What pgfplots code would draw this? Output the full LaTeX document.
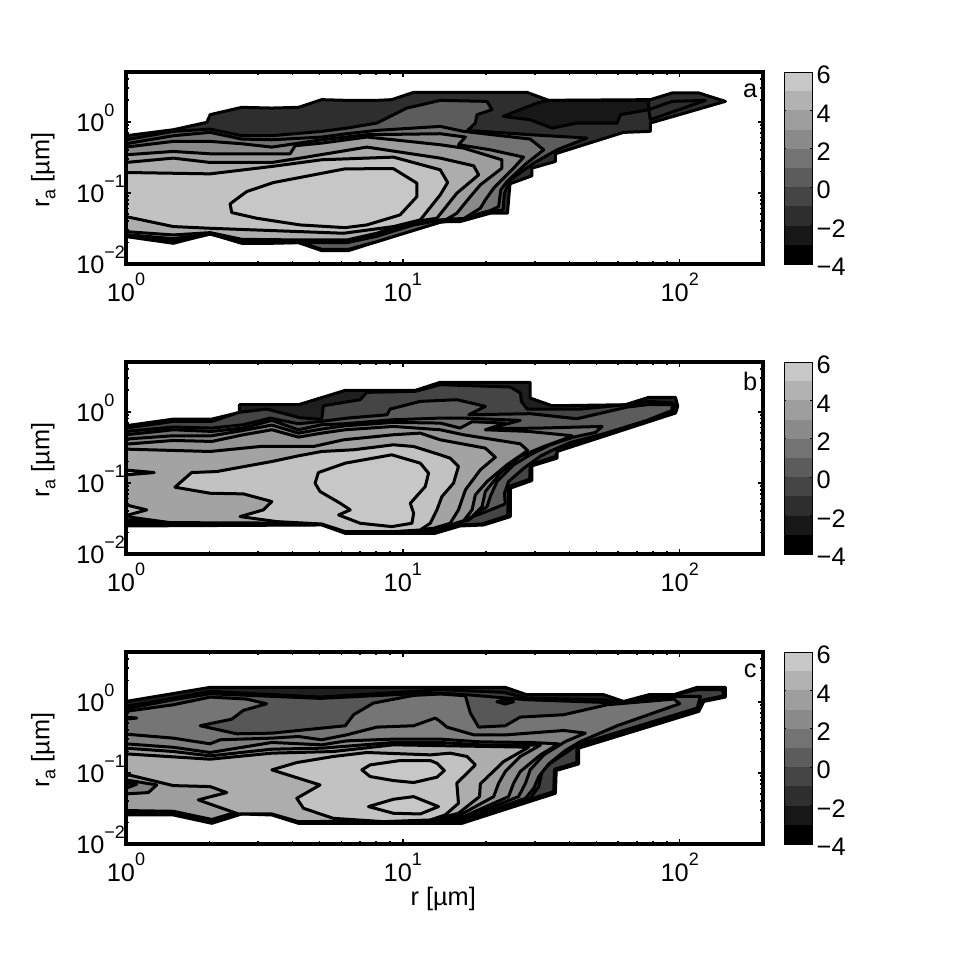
\documentclass[border=0pt]{standalone}
\usepackage{fontspec}
\setmainfont{Liberation Sans}
\usepackage{pgfplots}
\pgfplotsset{compat=1.18}
\definecolor{g00}{gray}{0.00}\definecolor{g09}{gray}{0.09}\definecolor{g12}{gray}{0.12}
\definecolor{g18}{gray}{0.18}\definecolor{g25}{gray}{0.25}\definecolor{g27}{gray}{0.27}
\definecolor{g34}{gray}{0.34}\definecolor{g36}{gray}{0.36}\definecolor{g44}{gray}{0.46}
\definecolor{g45}{gray}{0.45}\definecolor{g50}{gray}{0.50}\definecolor{g52}{gray}{0.52}
\definecolor{g54}{gray}{0.54}\definecolor{g56}{gray}{0.56}\definecolor{g58}{gray}{0.58}
\definecolor{g62}{gray}{0.62}\definecolor{g64}{gray}{0.64}\definecolor{g68}{gray}{0.68}
\definecolor{g70}{gray}{0.70}\definecolor{g72}{gray}{0.72}\definecolor{g76}{gray}{0.76}
\definecolor{g78}{gray}{0.78}
\newcommand{\tf}{\fontsize{19}{21}\selectfont}
\newcommand{\ee}[1]{10\raisebox{11.5pt}{\fontsize{13.5}{14}\selectfont #1}}
% one filled contour region; rows are log10(r) log10(ra)
\newcommand{\poly}[2]{\addplot[draw=black,line width=2.25pt,line join=round,fill=#1]
  table[row sep=\\,header=false,x expr={10^(\thisrowno{0})},y expr={10^(\thisrowno{1})}]{#2} --cycle;}
\pgfplotsset{panel/.style={
  scale only axis,width=477.75pt,height=144pt,
  anchor=south west,xmin=1,xmax=200,ymin=0.01,ymax=5,
  axis on top,clip=true,
  xtick={1,10,100},xticklabels={\ee{0},\ee{1},\ee{2}},
  ytick={0.01,0.1,1},yticklabels={\ee{−2},\ee{−1},\ee{0}},
  minor xtick={2,3,4,5,6,7,8,9,20,30,40,50,60,70,80,90,200},
  minor ytick={0.02,0.03,0.04,0.05,0.06,0.07,0.08,0.09,0.2,0.3,0.4,0.5,0.6,0.7,0.8,0.9,2,3,4,5},
  tick align=inside,major tick length=3.75pt,minor tick length=2.25pt,
  every tick/.style={black,line width=1.2pt},
  axis line style={line width=2.3pt},
  tick label style={font=\tf},label style={font=\tf},
  xticklabel style={yshift=-3.5pt},
  yticklabel style={anchor=west,inner sep=0pt,xshift=-37.5pt,yshift=3pt},
  ylabel={r\raisebox{-4.5pt}{\fontsize{13.5}{14}\selectfont a} [µm]},
  ylabel style={at={(axis description cs:-0.13,0.49)},anchor=center},
},
cbar/.style={
  scale only axis,width=21pt,height=144pt,anchor=south west,
  xmin=0,xmax=1,ymin=-4,ymax=6,xtick=\empty,axis on top,
  ytick={-4,-2,0,2,4,6},yticklabels={−4,−2,0,2,4,6},
  yticklabel pos=right,tick align=inside,
  major tick length=1.5pt,every tick/.style={black,line width=0.5pt},
  axis line style={line width=0.6pt},
  tick label style={font=\tf},
  yticklabel style={yshift=-2.2pt,xshift=0pt},
}}
\newcommand{\bars}{%
 \addplot[draw=none,fill=g00] coordinates {(0,-4)(1,-4)(1,-3)(0,-3)} --cycle;
 \addplot[draw=none,fill=g09] coordinates {(0,-3)(1,-3)(1,-2)(0,-2)} --cycle;
 \addplot[draw=none,fill=g18] coordinates {(0,-2)(1,-2)(1,-1)(0,-1)} --cycle;
 \addplot[draw=none,fill=g27] coordinates {(0,-1)(1,-1)(1,0)(0,0)} --cycle;
 \addplot[draw=none,fill=g36] coordinates {(0,0)(1,0)(1,1)(0,1)} --cycle;
 \addplot[draw=none,fill=g45] coordinates {(0,1)(1,1)(1,2)(0,2)} --cycle;
 \addplot[draw=none,fill=g54] coordinates {(0,2)(1,2)(1,3)(0,3)} --cycle;
 \addplot[draw=none,fill=g62] coordinates {(0,3)(1,3)(1,4)(0,4)} --cycle;
 \addplot[draw=none,fill=g70] coordinates {(0,4)(1,4)(1,5)(0,5)} --cycle;
 \addplot[draw=none,fill=g78] coordinates {(0,5)(1,5)(1,6)(0,6)} --cycle;
}
\begin{document}
\begin{tikzpicture}
\path (0,0) rectangle (724.5pt,726.75pt);
%%%%%%%% panel a
\begin{loglogaxis}[panel,at={(94.5pt,528.75pt)}]
\poly{g18}{0 -.197\\.171 -.113\\.292 -.009\\.304 .099\\.418 .202\\.527 .192\\.623 .202\\.707 .31\\.798 .30\\.906 .30\\.96 .31\\1.039 .413\\1.135 .413\\1.448 .413\\1.527 .30\\1.894 .31\\1.973 .404\\2.069 .404\\2.165 .286\\1.894 -.019\\1.894 -.136\\1.797 -.15\\1.551 -.451\\1.551 -.559\\1.466 -.653\\1.466 -.761\\1.387 -.873\\1.378 -1.286\\1.316 -1.286\\1.207 -1.404\\1.135 -1.404\\.804 -1.812\\.707 -1.812\\.623 -1.70\\.527 -1.709\\.418 -1.709\\.304 -1.577\\.171 -1.709\\0 -1.615\\}
\poly{g09}{1.362 .075\\1.485 .263\\1.527 .30\\1.888 .30\\1.888 .169\\1.786 .098\\1.774 -.019\\1.629 -.019\\1.539 -.09\\1.46 .028\\}
\poly{g18}{1.888 .169\\1.973 .286\\2.093 .30\\1.894 .028\\}
\poly{g36}{0 -.254\\.171 -.136\\.304 -.104\\.418 -.197\\.527 -.197\\.707 -.136\\.798 -.09\\.906 -.019\\1.015 .192\\1.135 .30\\1.304 .286\\1.322 .169\\1.268 .098\\1.262 -.019\\1.234 -.122\\1.46 -.183\\1.665 -.23\\1.557 -.395\\1.473 -.582\\1.388 -.817\\1.367 -1.005\\1.362 -1.24\\1.316 -1.268\\1.207 -1.38\\1.135 -1.414\\.906 -1.686\\.804 -1.794\\.707 -1.794\\.623 -1.686\\.527 -1.695\\.418 -1.695\\.304 -1.559\\.171 -1.695\\0 -1.597\\}
\poly{g45}{0 -.31\\.171 -.197\\.304 -.15\\.418 -.244\\.527 -.254\\.707 -.216\\.798 -.169\\.906 -.122\\1.135 -.066\\1.219 -.136\\1.46 -.244\\1.509 -.395\\1.448 -.582\\1.376 -.841\\1.354 -.958\\1.346 -1.193\\1.316 -1.249\\1.207 -1.366\\1.135 -1.385\\1.039 -1.451\\.906 -1.61\\.798 -1.70\\.623 -1.70\\.527 -1.70\\.418 -1.69\\.304 -1.58\\.171 -1.69\\0 -1.605\\}
\poly{g54}{0 -.357\\.171 -.277\\.304 -.277\\.418 -.31\\.527 -.357\\.707 -.254\\.87 -.183\\1.135 -.169\\1.226 -.216\\1.201 -.324\\1.316 -.395\\1.436 -.498\\1.400 -.653\\1.328 -.935\\1.298 -1.099\\1.28 -1.216\\1.22 -1.362\\1.135 -1.371\\1.039 -1.437\\.906 -1.592\\.798 -1.692\\.623 -1.692\\.418 -1.686\\.304 -1.574\\.171 -1.68\\0 -1.60\\}
\poly{g62}{0 -.465\\.171 -.418\\.304 -.451\\.593 -.451\\.611 -.338\\.707 -.301\\.87 -.216\\.966 -.254\\1.135 -.324\\1.219 -.371\\1.358 -.536\\1.358 -.653\\1.28 -.888\\1.244 -1.052\\1.195 -1.286\\1.159 -1.371\\1.039 -1.42\\.966 -1.50\\.906 -1.58\\.798 -1.682\\.623 -1.682\\.418 -1.677\\.304 -1.569\\.171 -1.644\\0 -1.587\\}
\poly{g68}{0 -.573\\.171 -.512\\.304 -.573\\.527 -.573\\.629 -.512\\.87 -.357\\1.135 -.512\\1.256 -.62\\1.274 -.747\\1.195 -1.005\\1.123 -1.357\\1.039 -1.405\\.966 -1.484\\.906 -1.568\\.798 -1.662\\.623 -1.662\\.418 -1.653\\.304 -1.559\\.171 -1.592\\0 -1.545\\}
\poly{g76}{0 -.714\\.304 -.733\\.527 -.629\\.707 -.535\\.966 -.498\\1.135 -.676\\1.162 -.855\\1.135 -1.029\\1.111 -1.146\\1.063 -1.38\\.966 -1.474\\.786 -1.568\\.533 -1.531\\.304 -1.498\\.171 -1.474\\0 -1.334\\}
\poly{g78}{.376 -1.155\\.436 -.982\\.533 -.855\\.792 -.662\\.966 -.66\\1.051 -.864\\1.051 -1.052\\.99 -1.31\\.87 -1.451\\.792 -1.489\\.629 -1.451\\.472 -1.357\\.382 -1.277\\}
\node[font=\tf] at (axis description cs:0.98,0.90) {a};
\end{loglogaxis}
\begin{axis}[cbar,at={(588pt,528.75pt)}]\bars\end{axis}
%%%%%%%% panel b
\begin{loglogaxis}[panel,at={(94.5pt,311.25pt)}]
\poly{g12}{0 -.197\\.171 -.104\\.31 -.104\\.41 -.01\\.41 .098\\.623 .098\\.792 .30\\1.045 .30\\1.135 .413\\1.46 .413\\1.46 .192\\1.539 .084\\1.804 .098\\1.888 .202\\1.985 .202\\1.993 .075\\1.985 -.019\\1.557 -.559\\1.557 -.653\\1.466 -.761\\1.466 -.967\\1.388 -1.075\\1.388 -1.475\\1.292 -1.592\\1.207 -1.606\\1.117 -1.709\\1.045 -1.709\\.792 -1.709\\.707 -1.592\\0 -1.606\\}
\poly{g27}{0 -.23\\.171 -.136\\.31 -.136\\.41 -.008\\.508 .037\\.629 -.085\\.707 -.108\\.713 .084\\.846 .169\\.87 .272\\1.045 .286\\1.135 .38\\1.388 .347\\1.425 .263\\1.428 .145\\1.449 .037\\1.641 .037\\1.804 .098\\1.888 .145\\1.973 .122\\1.985 .075\\1.973 -.01\\1.72 -.301\\1.563 -.512\\1.551 -.629\\1.46 -.747\\1.458 -.949\\1.382 -1.052\\1.379 -1.46\\1.286 -1.578\\1.207 -1.592\\1.117 -1.695\\.792 -1.695\\.707 -1.583\\0 -1.592\\}
\poly{g36}{0 -.277\\.171 -.216\\.31 -.23\\.424 -.183\\.521 -.09\\.623 -.169\\.707 -.136\\.798 -.09\\.943 -.043\\.954 .037\\1.063 .145\\1.195 .169\\1.298 .075\\1.238 -.043\\1.46 -.028\\1.629 -.099\\1.81 .065\\1.882 .098\\1.973 .098\\1.973 .019\\1.882 -.122\\1.726 -.31\\1.605 -.432\\1.533 -.554\\1.497 -.625\\1.437 -.794\\1.382 -.981\\1.367 -1.146\\1.37 -1.296\\1.28 -1.437\\1.22 -1.512\\1.111 -1.662\\1.045 -1.68\\.792 -1.68\\.707 -1.585\\.159 -1.59\\0 -1.575\\}
\poly{g45}{0 -.324\\.171 -.254\\.31 -.277\\.424 -.23\\.527 -.122\\.623 -.254\\.707 -.183\\.792 -.169\\.966 -.113\\1.135 -.09\\1.219 -.09\\1.424 -.122\\1.31 -.24\\1.497 -.23\\1.72 -.207\\1.696 -.291\\1.617 -.357\\1.533 -.465\\1.46 -.606\\1.4 -.747\\1.34 -.982\\1.316 -1.193\\1.304 -1.334\\1.268 -1.428\\1.238 -1.522\\1.111 -1.653\\1.045 -1.672\\.792 -1.672\\.707 -1.578\\.159 -1.587\\0 -1.568\\}
\poly{g52}{0 -.385\\.171 -.338\\.31 -.338\\.424 -.263\\.527 -.188\\.623 -.301\\.707 -.244\\.792 -.198\\.966 -.15\\1.135 -.16\\1.207 -.23\\1.25 -.141\\1.37 -.16\\1.298 -.254\\1.454 -.277\\1.611 -.338\\1.593 -.371\\1.509 -.489\\1.424 -.629\\1.352 -.864\\1.298 -1.122\\1.286 -1.334\\1.25 -1.475\\1.207 -1.559\\1.111 -1.648\\1.045 -1.662\\.792 -1.662\\.707 -1.568\\.159 -1.577\\0 -1.545\\}
\poly{g58}{0 -.456\\.171 -.404\\.31 -.418\\.424 -.324\\.527 -.254\\.623 -.357\\.707 -.301\\.792 -.254\\.966 -.207\\1.135 -.254\\1.219 -.324\\1.424 -.451\\1.451 -.545\\1.376 -.747\\1.304 -.982\\1.262 -1.169\\1.25 -1.38\\1.22 -1.531\\1.171 -1.592\\1.111 -1.639\\1.045 -1.653\\.792 -1.653\\.707 -1.575\\.159 -1.568\\0 -1.52\\}
\poly{g64}{0 -.526\\.304 -.559\\.484 -.489\\.677 -.489\\.786 -.395\\.966 -.324\\1.063 -.301\\1.135 -.395\\1.298 -.512\\1.334 -.639\\1.28 -.817\\1.226 -1.099\\1.201 -1.38\\1.171 -1.568\\1.111 -1.639\\1.045 -1.662\\.792 -1.662\\.707 -1.568\\.159 -1.559\\0 -1.474\\}
\poly{g76}{.177 -1.061\\.237 -.855\\.328 -.841\\.527 -.7\\.623 -.62\\.707 -.559\\.822 -.535\\.966 -.465\\1.039 -.489\\1.135 -.606\\1.171 -.653\\1.201 -.770\\1.183 -1.005\\1.141 -1.193\\1.123 -1.38\\1.099 -1.568\\1.063 -1.662\\.966 -1.686\\.792 -1.686\\.707 -1.578\\.545 -1.545\\.412 -1.474\\.496 -1.38\\.527 -1.263\\.424 -1.155\\.304 -1.146\\}
\poly{g78}{.683 -1.005\\.695 -.855\\.792 -.723\\.96 -.606\\1.063 -.723\\1.093 -.864\\1.081 -1.052\\1.027 -1.287\\1.039 -1.428\\1.033 -1.568\\.96 -1.615\\.846 -1.568\\.768 -1.451\\.81 -1.38\\.774 -1.287\\.701 -1.122\\}
\poly{g76}{0 -.82\\.102 -.855\\0 -.888\\}
\poly{g72}{0 -1.31\\.075 -1.38\\0 -1.46\\}
\node[font=\tf] at (axis description cs:0.98,0.90) {b};
\end{loglogaxis}
\begin{axis}[cbar,at={(588pt,311.25pt)}]\bars\end{axis}
%%%%%%%% panel c
\begin{loglogaxis}[panel,at={(94.5pt,93.75pt)},xlabel={r [µm]},xlabel style={at={(axis description cs:0.498,-0.285)},anchor=center}]
\poly{g12}{0 .004\\.304 .202\\1.039 .202\\1.37 .202\\1.448 .098\\1.726 .098\\1.798 .004\\1.888 .098\\1.979 .098\\2.063 .202\\2.165 .202\\2.165 .065\\2.087 .004\\2.069 -.136\\1.635 -.653\\1.635 -.874\\1.554 -.967\\1.551 -1.287\\1.214 -1.709\\.623 -1.709\\.527 -1.592\\.418 -1.578\\.31 -1.709\\.171 -1.592\\0 -1.592\\}
\poly{g25}{0 -.066\\.171 .051\\.304 .145\\.701 .065\\1.039 .145\\1.135 .169\\1.365 .131\\1.448 .051\\1.726 .028\\1.81 -.028\\1.894 .075\\1.979 .095\\2.063 .169\\2.154 .169\\2.16 .084\\2.081 .019\\2.063 -.113\\1.629 -.629\\1.629 -.855\\1.548 -.949\\1.545 -1.263\\1.214 -1.686\\.623 -1.686\\.527 -1.568\\.418 -1.541\\.31 -1.686\\.171 -1.568\\0 -1.568\\}
\poly{g34}{0 -.099\\.171 .028\\.304 .112\\.701 .047\\1.039 .112\\1.135 .122\\1.232 .098\\1.448 .028\\1.726 -.01\\1.81 -.043\\1.894 .037\\1.985 .075\\2.075 .075\\2.063 -.09\\1.629 -.606\\1.605 -.676\\1.533 -.864\\1.503 -.982\\1.491 -1.193\\1.46 -1.357\\1.219 -1.686\\.623 -1.68\\.527 -1.56\\.418 -1.53\\.31 -1.67\\.171 -1.56\\0 -1.56\\}
\poly{g44}{0 -.136\\.171 -.043\\.304 .065\\.436 .037\\.508 -.029\\.424 -.122\\.382 -.245\\.268 -.338\\.4 -.451\\.527 -.442\\.792 -.338\\.822 -.183\\.894 -.019\\1.039 .089\\1.135 .108\\1.226 .084\\1.244 -.16\\1.274 -.357\\1.37 -.338\\1.424 -.216\\1.581 -.183\\1.738 -.043\\1.979 .037\\2.0 -.028\\1.774 -.338\\1.641 -.56\\1.587 -.686\\1.527 -.874\\1.491 -1.052\\1.473 -1.216\\1.443 -1.357\\1.219 -1.662\\.623 -1.677\\.527 -1.559\\.418 -1.55\\.31 -1.677\\.171 -1.559\\0 -1.559\\}
\poly{g09}{1.34 .0\\1.37 .033\\1.40 .0\\1.37 -.033\\}
\poly{g50}{0 -.456\\.171 -.512\\.304 -.592\\.34 -.535\\.527 -.512\\.623 -.489\\.707 -.535\\.798 -.465\\.906 -.357\\1.039 -.338\\1.117 -.23\\1.135 -.277\\1.159 -.357\\1.256 -.465\\1.376 -.465\\1.581 -.404\\1.659 -.442\\1.587 -.56\\1.509 -.747\\1.46 -.958\\1.443 -1.146\\1.418 -1.334\\1.219 -1.639\\.623 -1.667\\.527 -1.55\\.418 -1.54\\.31 -1.667\\.171 -1.55\\0 -1.55\\}
\poly{g56}{0 -.592\\.171 -.641\\.304 -.714\\.527 -.573\\.707 -.606\\.798 -.55\\.966 -.526\\1.135 -.526\\1.28 -.564\\1.462 -.573\\1.563 -.592\\1.497 -.747\\1.424 -.982\\1.4 -1.146\\1.382 -1.334\\1.219 -1.615\\.623 -1.66\\.527 -1.545\\.418 -1.535\\.31 -1.66\\.171 -1.545\\0 -1.54\\}
\poly{g62}{0 -.653\\.171 -.70\\.304 -.761\\.527 -.667\\.707 -.653\\.966 -.573\\1.135 -.573\\1.28 -.606\\1.497 -.61\\1.424 -.77\\1.37 -.982\\1.346 -1.146\\1.328 -1.334\\1.207 -1.592\\.623 -1.655\\.527 -1.54\\.418 -1.53\\.31 -1.655\\.171 -1.54\\0 -1.53\\}
\poly{g68}{0 -.733\\.304 -.808\\.527 -.723\\.749 -.70\\.966 -.606\\1.171 -.62\\1.455 -.639\\1.364 -.841\\1.28 -1.155\\1.277 -1.334\\1.201 -1.568\\1.099 -1.672\\.623 -1.686\\.527 -1.578\\.406 -1.578\\.261 -1.38\\.364 -1.277\\.304 -1.193\\.171 -1.179\\0 -1.019\\}
\poly{g76}{.527 -.958\\.617 -.855\\.749 -.770\\.87 -.714\\1.099 -.747\\1.171 -.723\\1.232 -.77\\1.262 -.888\\1.195 -1.146\\1.201 -1.428\\1.153 -1.592\\1.099 -1.662\\.93 -1.686\\.749 -1.639\\.641 -1.498\\.617 -1.357\\.701 -1.17\\}
\poly{g78}{.852 -.958\\.882 -.888\\.99 -.827\\1.099 -.827\\1.123 -.864\\1.15 -.967\\1.123 -1.061\\1.039 -1.136\\.966 -1.108\\.882 -1.052\\}
\poly{g78}{.876 -1.474\\.966 -1.371\\1.039 -1.334\\1.099 -1.428\\1.129 -1.474\\1.099 -1.521\\1.063 -1.578\\.966 -1.568\\}
\poly{g50}{0 -1.099\\.111 -1.17\\.081 -1.277\\0 -1.296\\}
\poly{g25}{0 -1.136\\.039 -1.16\\0 -1.216\\}
\poly{g00}{0 -.216\\.039 -.23\\0 -.244\\}
\node[font=\tf] at (axis description cs:0.98,0.90) {c};
\end{loglogaxis}
\begin{axis}[cbar,at={(588pt,93.75pt)}]\bars\end{axis}
\end{tikzpicture}
\end{document}
